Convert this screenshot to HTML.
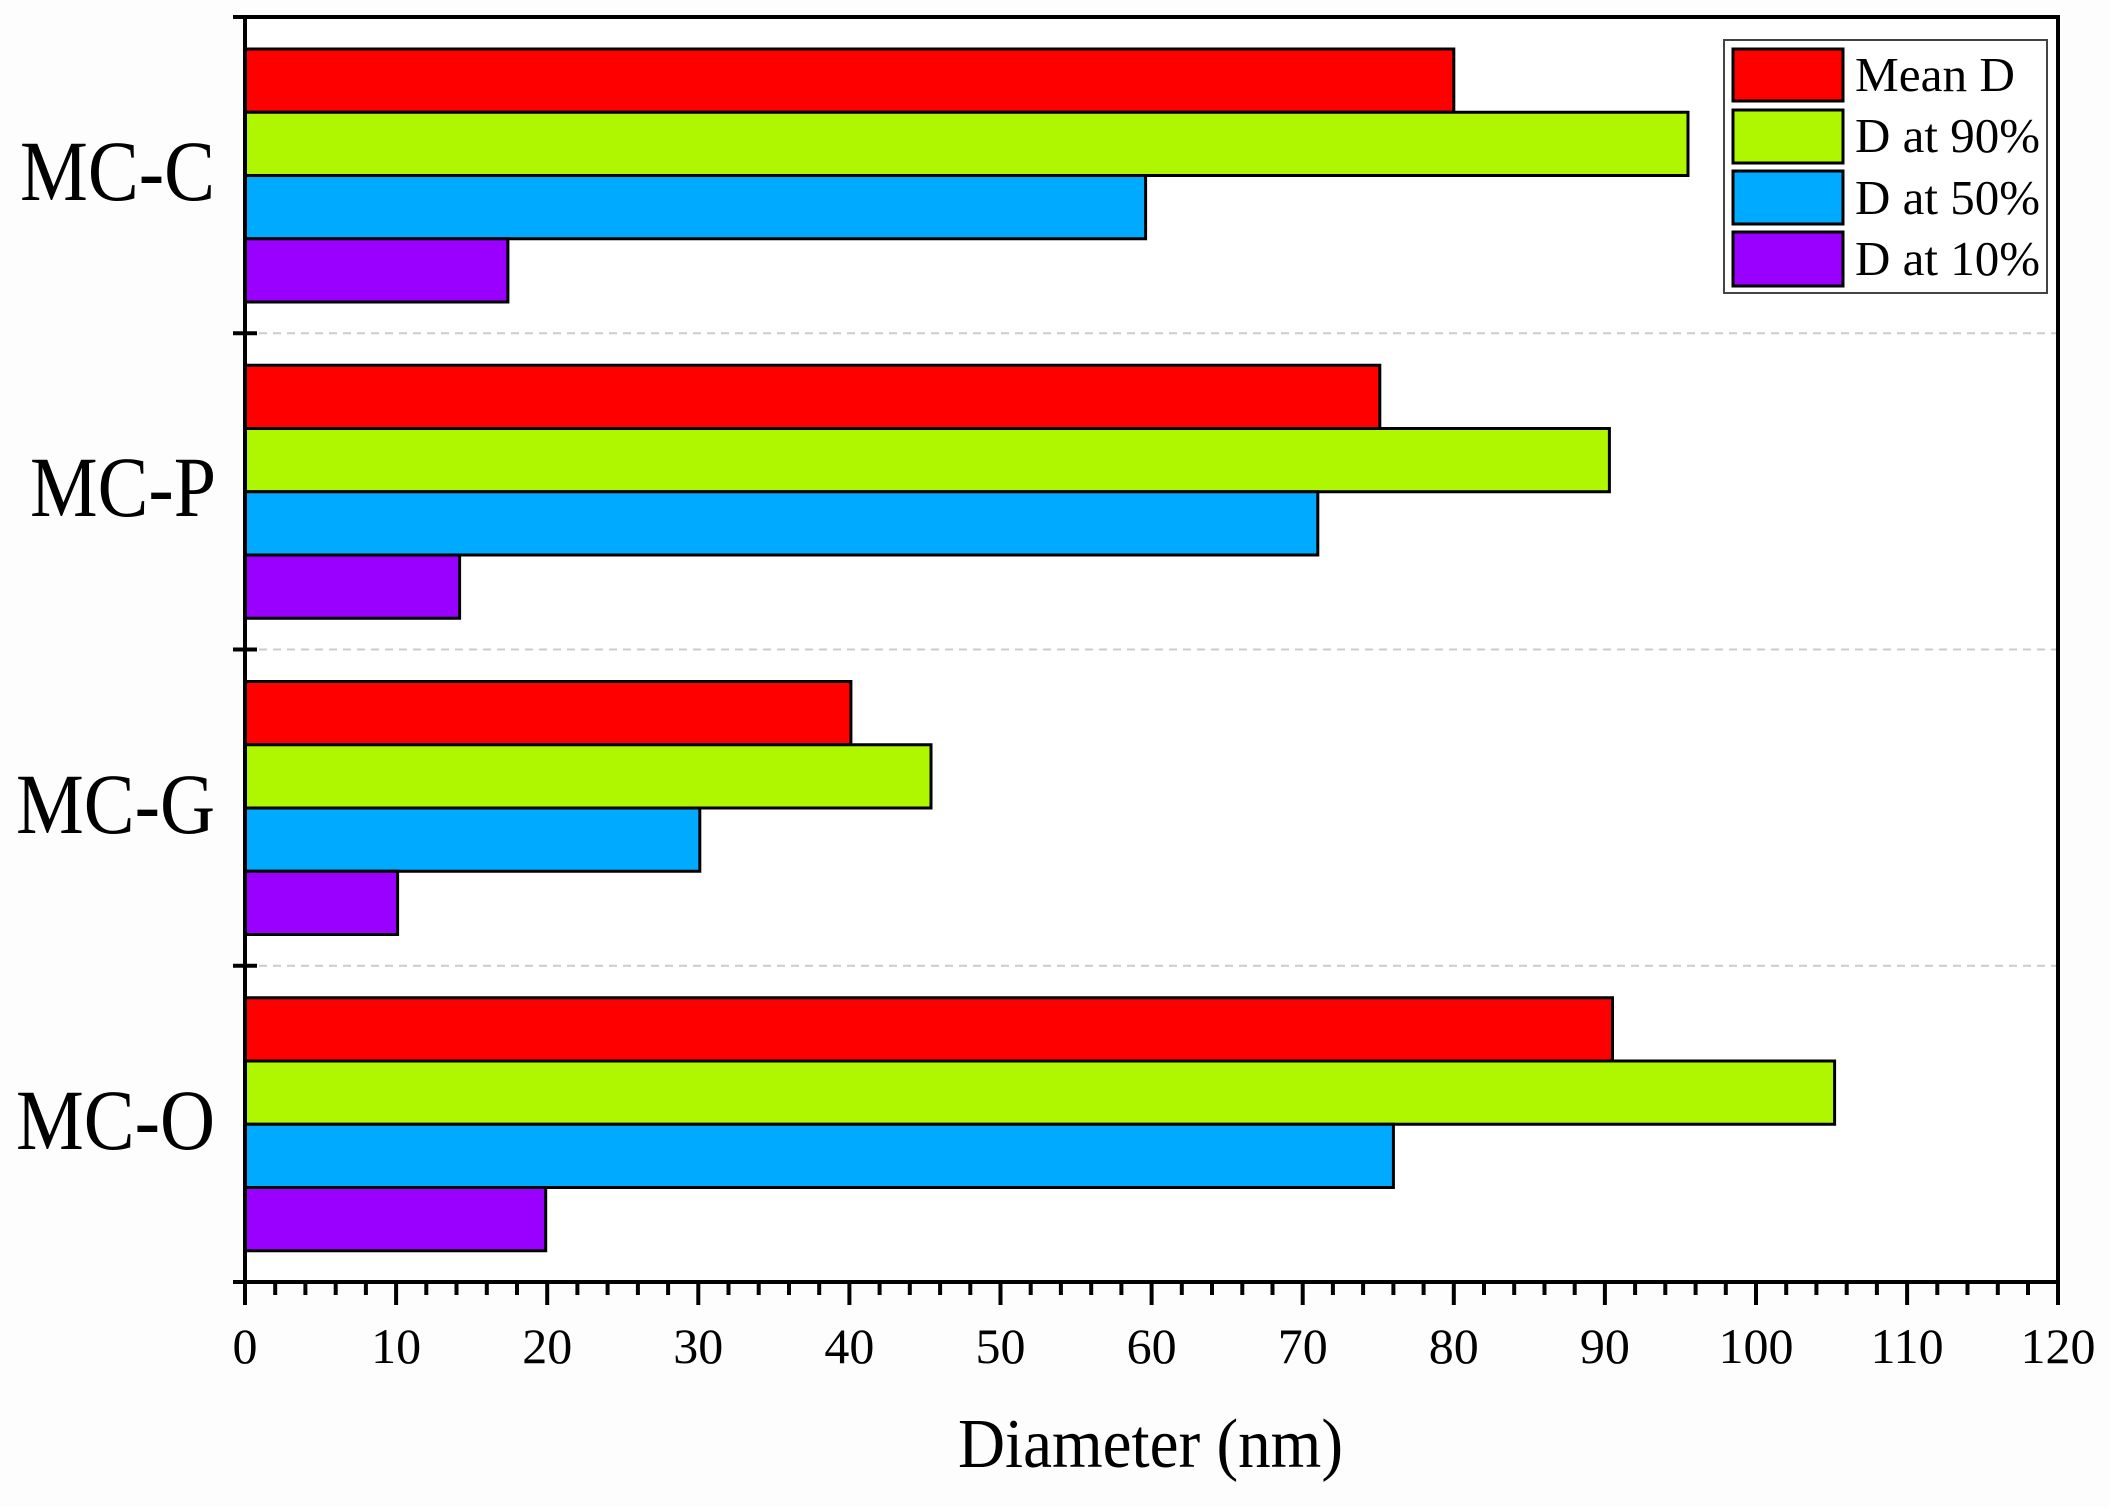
<!DOCTYPE html>
<html><head><meta charset="utf-8"><style>html,body{margin:0;padding:0;background:#fdfdfd}</style></head>
<body>
<svg width="2110" height="1502" viewBox="0 0 2110 1502" xmlns="http://www.w3.org/2000/svg" font-family="'Liberation Serif', serif">
<rect width="2110" height="1502" fill="#fdfdfd"/>
<rect x="245" y="17" width="1813" height="1265" fill="#fff"/>
<g stroke="#ccc" stroke-width="2" stroke-dasharray="8,6">
<line x1="245" y1="333.25" x2="2058" y2="333.25"/>
<line x1="245" y1="649.5" x2="2058" y2="649.5"/>
<line x1="245" y1="965.75" x2="2058" y2="965.75"/>
</g>
<g stroke="#000" stroke-width="3">
<rect x="245" y="49" width="1208.8" height="63.25" fill="#ff0000"/>
<rect x="245" y="112.25" width="1443" height="63.25" fill="#aef700"/>
<rect x="245" y="175.5" width="900.6" height="63.25" fill="#00aaff"/>
<rect x="245" y="238.75" width="262.9" height="63.25" fill="#9900ff"/>
<rect x="245" y="365.25" width="1134.8" height="63.25" fill="#ff0000"/>
<rect x="245" y="428.5" width="1364.4" height="63.25" fill="#aef700"/>
<rect x="245" y="491.75" width="1072.8" height="63.25" fill="#00aaff"/>
<rect x="245" y="555" width="214.6" height="63.25" fill="#9900ff"/>
<rect x="245" y="681.5" width="605.9" height="63.25" fill="#ff0000"/>
<rect x="245" y="744.75" width="686" height="63.25" fill="#aef700"/>
<rect x="245" y="808" width="454.8" height="63.25" fill="#00aaff"/>
<rect x="245" y="871.25" width="152.6" height="63.25" fill="#9900ff"/>
<rect x="245" y="997.75" width="1367.5" height="63.25" fill="#ff0000"/>
<rect x="245" y="1061" width="1589.6" height="63.25" fill="#aef700"/>
<rect x="245" y="1124.25" width="1148.4" height="63.25" fill="#00aaff"/>
<rect x="245" y="1187.5" width="300.7" height="63.25" fill="#9900ff"/>
</g>
<g stroke="#000" stroke-width="4" fill="none">
<rect x="245" y="17" width="1813" height="1265"/>
<line x1="233" y1="17" x2="245" y2="17"/>
<line x1="233" y1="1282" x2="245" y2="1282"/>
<line x1="233" y1="333.25" x2="257" y2="333.25"/>
<line x1="233" y1="649.5" x2="257" y2="649.5"/>
<line x1="233" y1="965.75" x2="257" y2="965.75"/>
</g>
<g stroke="#000" stroke-width="4">
<line x1="245" y1="1282" x2="245" y2="1305"/><line x1="396.1" y1="1282" x2="396.1" y2="1305"/><line x1="547.2" y1="1282" x2="547.2" y2="1305"/><line x1="698.3" y1="1282" x2="698.3" y2="1305"/><line x1="849.4" y1="1282" x2="849.4" y2="1305"/><line x1="1000.5" y1="1282" x2="1000.5" y2="1305"/><line x1="1151.6" y1="1282" x2="1151.6" y2="1305"/><line x1="1302.7" y1="1282" x2="1302.7" y2="1305"/><line x1="1453.8" y1="1282" x2="1453.8" y2="1305"/><line x1="1604.9" y1="1282" x2="1604.9" y2="1305"/><line x1="1756" y1="1282" x2="1756" y2="1305"/><line x1="1907.1" y1="1282" x2="1907.1" y2="1305"/><line x1="2058" y1="1282" x2="2058" y2="1305"/>
</g>
<g stroke="#000" stroke-width="4">
<path d="M275.2 1282v13M305.4 1282v13M335.7 1282v13M365.9 1282v13M426.3 1282v13M456.5 1282v13M486.8 1282v13M517 1282v13M577.4 1282v13M607.6 1282v13M637.9 1282v13M668.1 1282v13M728.5 1282v13M758.7 1282v13M789 1282v13M819.2 1282v13M879.6 1282v13M909.8 1282v13M940.1 1282v13M970.3 1282v13M1030.7 1282v13M1060.9 1282v13M1091.2 1282v13M1121.4 1282v13M1181.8 1282v13M1212 1282v13M1242.3 1282v13M1272.5 1282v13M1332.9 1282v13M1363.1 1282v13M1393.4 1282v13M1423.6 1282v13M1484 1282v13M1514.2 1282v13M1544.5 1282v13M1574.7 1282v13M1635.1 1282v13M1665.3 1282v13M1695.6 1282v13M1725.8 1282v13M1786.2 1282v13M1816.4 1282v13M1846.7 1282v13M1876.9 1282v13M1937.3 1282v13M1967.5 1282v13M1997.8 1282v13M2028 1282v13"/>
</g>
<g font-size="50" text-anchor="middle" fill="#000">
<text x="245" y="1363">0</text><text x="396.1" y="1363">10</text><text x="547.2" y="1363">20</text><text x="698.3" y="1363">30</text><text x="849.4" y="1363">40</text><text x="1000.5" y="1363">50</text><text x="1151.6" y="1363">60</text><text x="1302.7" y="1363">70</text><text x="1453.8" y="1363">80</text><text x="1604.9" y="1363">90</text><text x="1756" y="1363">100</text><text x="1907.1" y="1363">110</text><text x="2058" y="1363">120</text>
</g>
<text x="958" y="1467" font-size="70" textLength="385" lengthAdjust="spacingAndGlyphs">Diameter (nm)</text>
<g font-size="86" fill="#000">
<text x="20" y="200" textLength="195" lengthAdjust="spacingAndGlyphs">MC-C</text>
<text x="30" y="516" textLength="186" lengthAdjust="spacingAndGlyphs">MC-P</text>
<text x="16" y="833" textLength="199" lengthAdjust="spacingAndGlyphs">MC-G</text>
<text x="16" y="1149" textLength="199" lengthAdjust="spacingAndGlyphs">MC-O</text>
</g>
<rect x="1724" y="40" width="323" height="253" fill="#fff" stroke="#444" stroke-width="2"/>
<g stroke="#000" stroke-width="3">
<rect x="1733" y="49" width="110" height="52" fill="#ff0000"/>
<rect x="1733" y="110" width="110" height="53" fill="#aef700"/>
<rect x="1733" y="171" width="110" height="53" fill="#00aaff"/>
<rect x="1733" y="232" width="110" height="54" fill="#9900ff"/>
</g>
<g font-size="49" fill="#000">
<text x="1855" y="91" textLength="160" lengthAdjust="spacingAndGlyphs">Mean D</text>
<text x="1855" y="152" textLength="185" lengthAdjust="spacingAndGlyphs">D at 90%</text>
<text x="1855" y="214" textLength="185" lengthAdjust="spacingAndGlyphs">D at 50%</text>
<text x="1855" y="275" textLength="185" lengthAdjust="spacingAndGlyphs">D at 10%</text>
</g>
</svg>
</body></html>
